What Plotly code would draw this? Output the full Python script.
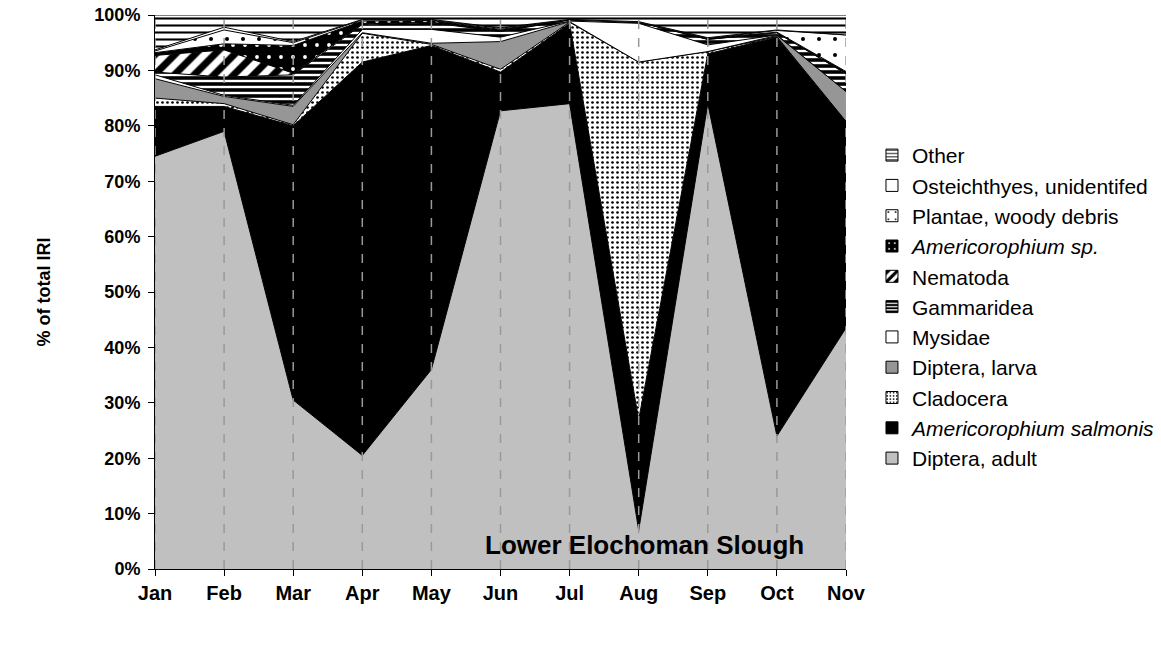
import plotly.graph_objects as go

months = ["Jan", "Feb", "Mar", "Apr", "May", "Jun", "Jul", "Aug", "Sep", "Oct", "Nov"]

diptera_adult = [74.5, 79.0, 30.5, 20.5, 36.0, 82.7, 84.0, 7.0, 84.0, 24.0, 43.5]
americorophium_salmonis = [9.0, 4.5, 49.5, 71.0, 58.5, 7.0, 14.5, 20.0, 9.0, 72.0, 37.3]
cladocera = [1.5, 0.5, 0.2, 5.2, 0.2, 0.5, 0.2, 64.5, 0.4, 0.1, 0.0]
diptera_larva = [3.5, 1.3, 3.3, 0.1, 0.2, 5.0, 0.1, 0.0, 0.0, 0.2, 5.4]
mysidae = [0.7, 0.2, 0.2, 0.6, 2.5, 0.8, 0.1, 7.0, 1.2, 0.1, 0.0]
gammaridea = [0.5, 3.3, 5.5, 0.9, 1.2, 1.0, 0.2, 0.2, 1.0, 0.4, 3.2]
nematoda = [3.0, 4.9, 0.3, 0.1, 0.1, 0.1, 0.0, 0.0, 0.0, 0.0, 0.1]
americorophium_sp = [0.5, 1.1, 5.0, 0.5, 0.3, 0.3, 0.1, 0.0, 0.2, 0.1, 0.3]
plantae = [0.3, 2.5, 0.5, 0.2, 0.1, 0.2, 0.0, 0.0, 0.0, 0.3, 6.6]
osteichthyes = [0.2, 0.5, 0.2, 0.1, 0.1, 0.1, 0.0, 0.1, 0.1, 0.1, 0.0]
other = [6.3, 2.2, 4.8, 0.8, 0.8, 2.3, 0.8, 1.2, 4.1, 2.7, 3.6]

xidx = list(range(len(months)))

def pat(shape, bg, fg, size, solidity):
    return dict(shape=shape, bgcolor=bg, fgcolor=fg, size=size, solidity=solidity,
                fgopacity=1, fillmode="replace")

series = [
    ("Diptera, adult", diptera_adult, "#C0C0C0", None),
    ("<i>Americorophium salmonis</i>", americorophium_salmonis, "#000000", None),
    ("Cladocera", cladocera, None, pat(".", "white", "black", 5, 0.22)),
    ("Diptera, larva", diptera_larva, "#969696", None),
    ("Mysidae", mysidae, "#FFFFFF", None),
    ("Gammaridea", gammaridea, None, pat("-", "white", "black", 6, 0.6)),
    ("Nematoda", nematoda, None, pat("/", "white", "black", 14, 0.5)),
    ("<i>Americorophium sp.</i>", americorophium_sp, None, pat(".", "black", "white", 12, 0.08)),
    ("Plantae, woody debris", plantae, None, pat(".", "white", "black", 16, 0.05)),
    ("Osteichthyes, unidentifed", osteichthyes, "#FFFFFF", None),
    ("Other", other, None, pat("-", "white", "black", 7, 0.3)),
]

fig = go.Figure()
for i, (name, vals, color, p) in enumerate(series):
    kw = dict(fillpattern=p) if p else dict(fillcolor=color)
    fig.add_trace(go.Scatter(
        x=xidx, y=vals, name=name, mode="lines",
        stackgroup="one", groupnorm="percent",
        line=dict(color="black", width=1),
        hoverinfo="skip", showlegend=False,
        **kw,
    ))

# legend swatches
for i, (name, vals, color, p) in enumerate(series):
    marker = dict(color=color if color else "white", line=dict(color="black", width=1))
    if p:
        lp = dict(p)
        lp["size"] = max(4, int(p["size"] * 0.6))
        marker["pattern"] = lp
    fig.add_trace(go.Bar(
        x=[None], y=[None], name=name, marker=marker, legendgroup=f"g{i}",
        showlegend=True, hoverinfo="skip",
    ))

for xi in xidx:
    fig.add_shape(type="line", xref="x", yref="paper", x0=xi, x1=xi, y0=0, y1=1,
                  line=dict(color="#999999", width=1.5, dash="dash"), layer="above")

fig.add_annotation(
    x=7.08, y=4.3, xref="x", yref="y", text="<b>Lower Elochoman Slough</b>",
    showarrow=False, font=dict(family="Liberation Sans, Arial", size=26, color="black"),
)

fig.update_layout(
    width=1161, height=648,
    margin=dict(l=155, r=315, t=15, b=79, autoexpand=False),
    paper_bgcolor="white", plot_bgcolor="white",
    font=dict(family="Liberation Sans, Arial", color="black"),
    showlegend=True,
    legend=dict(
        traceorder="reversed", x=1.0376, y=0.473, xanchor="left", yanchor="middle",
        font=dict(family="Liberation Sans, Arial", size=21, color="black"),
        tracegroupgap=5, bgcolor="rgba(0,0,0,0)",
    ),
)
fig.update_xaxes(
    range=[0, 10], tickmode="array", tickvals=xidx, ticktext=months,
    tickfont=dict(size=20, weight="bold"),
    showgrid=False, automargin=False, ticklabeloverflow="allow",
    showline=True, linecolor="black", linewidth=1,
    ticks="outside", ticklen=6, tickcolor="black", zeroline=False,
)
fig.update_yaxes(
    range=[0, 100], tickmode="array", tickvals=list(range(0, 101, 10)),
    ticktext=[f"{v}%" for v in range(0, 101, 10)],
    tickfont=dict(size=18, weight="bold"), automargin=False,
    ticklabeloverflow="allow",
    showgrid=False, showline=True, linecolor="black", linewidth=1,
    ticks="outside", ticklen=6, tickcolor="black", zeroline=False,
    ticklabelstandoff=4,
    title=dict(text="% of total IRI", font=dict(size=18, weight="bold"), standoff=39),
)

fig.write_html("out.html", config={"displayModeBar": False},
               post_script="document.body.style.margin='0px';")
